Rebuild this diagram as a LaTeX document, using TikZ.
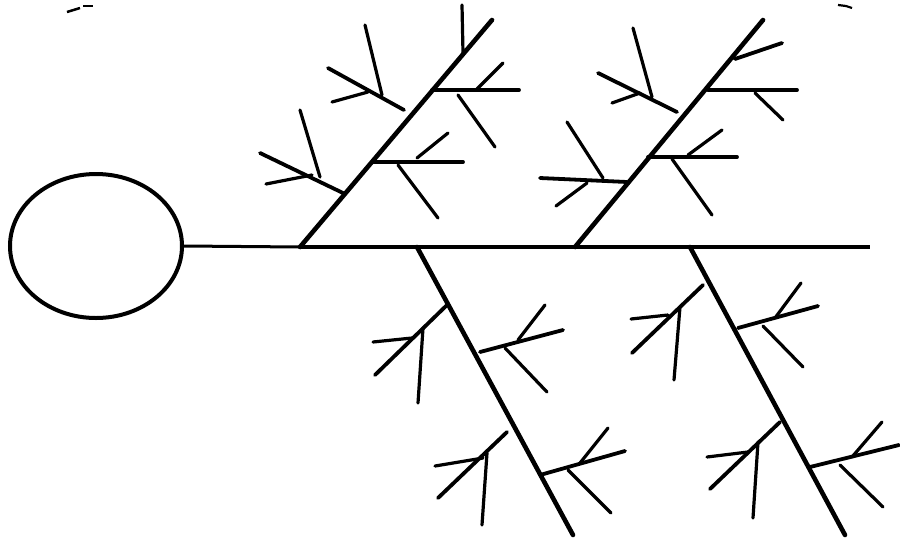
\documentclass[tikz,border=0pt]{standalone}
\usetikzlibrary{shapes.geometric}
\begin{document}
\begin{tikzpicture}[x=1pt,y=-1pt,
  bone/.style={line width=4.6pt,line cap=round},
  rib/.style={line width=3.8pt,line cap=round},
  twig/.style={line width=3.2pt,line cap=round},
  thinline/.style={line width=3pt},
  headshape/.style={draw,line width=4pt,ellipse,minimum width=172pt,minimum height=144pt,inner sep=0pt}]
\useasboundingbox (0,0) rectangle (900,539);
\fill[white] (0,0) rectangle (900,539);
% head
\node[headshape] (head) at (96,246) {};
\coordinate (s1) at (300,247);
\coordinate (s2) at (575,247);
\coordinate (s3) at (417,247);
\coordinate (s4) at (690,247);
\coordinate (tail) at (870,247);
\draw[thinline] (head.east) -- (s1);
\draw[bone,line cap=butt] (s1) -- (tail);
% ---------- upper-left bone ----------
\coordinate (t1) at (492,20);
\draw[bone] (s1) -- (t1);
\draw[twig] (462,5) -- (463,53);
\draw[rib] (432,90) -- (519,90);
\draw[twig] (503,63) -- (477,89);
\draw[twig] (458,95) -- (495,147);
\draw[rib] (373,162) -- (463,162);
\draw[twig] (448,133) -- (417,158);
\draw[twig] (398,165) -- (438,218);
\draw[rib] (328,68) -- (404,110);
\draw[twig] (365,25) -- (382,95);
\draw[twig] (332,102) -- (368,92);
\draw[rib] (260,153) -- (343,193);
\draw[twig] (300,110) -- (320,177);
\draw[twig] (266,184) -- (312,175);
% ---------- upper-right bone ----------
\coordinate (t2) at (763,20);
\draw[bone] (s2) -- (t2);
\draw[rib] (782,43) -- (735,59);
\draw[rib] (708,90) -- (797,90);
\draw[twig] (755,93) -- (783,120);
\draw[rib] (648,157) -- (737,157);
\draw[twig] (722,130) -- (688,155);
\draw[twig] (672,159) -- (712,215);
\draw[rib] (598,73) -- (677,112);
\draw[twig] (633,28) -- (652,97);
\draw[twig] (612,103) -- (640,93);
\draw[rib] (540,178) -- (627,182);
\draw[twig] (567,122) -- (603,178);
\draw[twig] (556,206) -- (587,183);
% ---------- lower-left bone ----------
\coordinate (b3) at (573,535);
\draw[bone] (s3) -- (b3);
\draw[rib] (447,305) -- (375,375);
\draw[twig] (373,342) -- (412,338);
\draw[twig] (423,328) -- (418,403);
\draw[rib] (480,352) -- (563,330);
\draw[twig] (545,305) -- (518,340);
\draw[twig] (505,348) -- (547,392);
\draw[rib] (507,432) -- (438,498);
\draw[twig] (435,466) -- (483,458);
\draw[twig] (487,453) -- (482,525);
\draw[rib] (540,475) -- (625,451);
\draw[twig] (608,428) -- (580,463);
\draw[twig] (568,470) -- (611,513);
% ---------- lower-right bone ----------
\coordinate (b4) at (845,535);
\draw[bone] (s4) -- (b4);
\draw[rib] (703,285) -- (632,353);
\draw[twig] (631,319) -- (668,315);
\draw[twig] (680,307) -- (674,380);
\draw[rib] (738,328) -- (818,306);
\draw[twig] (801,283) -- (775,318);
\draw[twig] (763,326) -- (803,367);
\draw[rib] (780,422) -- (710,489);
\draw[twig] (707,457) -- (748,452);
\draw[twig] (758,442) -- (753,518);
\draw[rib] (810,467) -- (899,445);
\draw[twig] (882,422) -- (852,457);
\draw[twig] (840,465) -- (883,507);
% scan marks
\draw[line width=2.5pt] (67,12) -- (80,8);
\draw[line width=2.5pt] (83,6) -- (93,6);
\draw[line width=2.2pt] (838,5) -- (846,6) -- (852,8);
\end{tikzpicture}
\end{document}
